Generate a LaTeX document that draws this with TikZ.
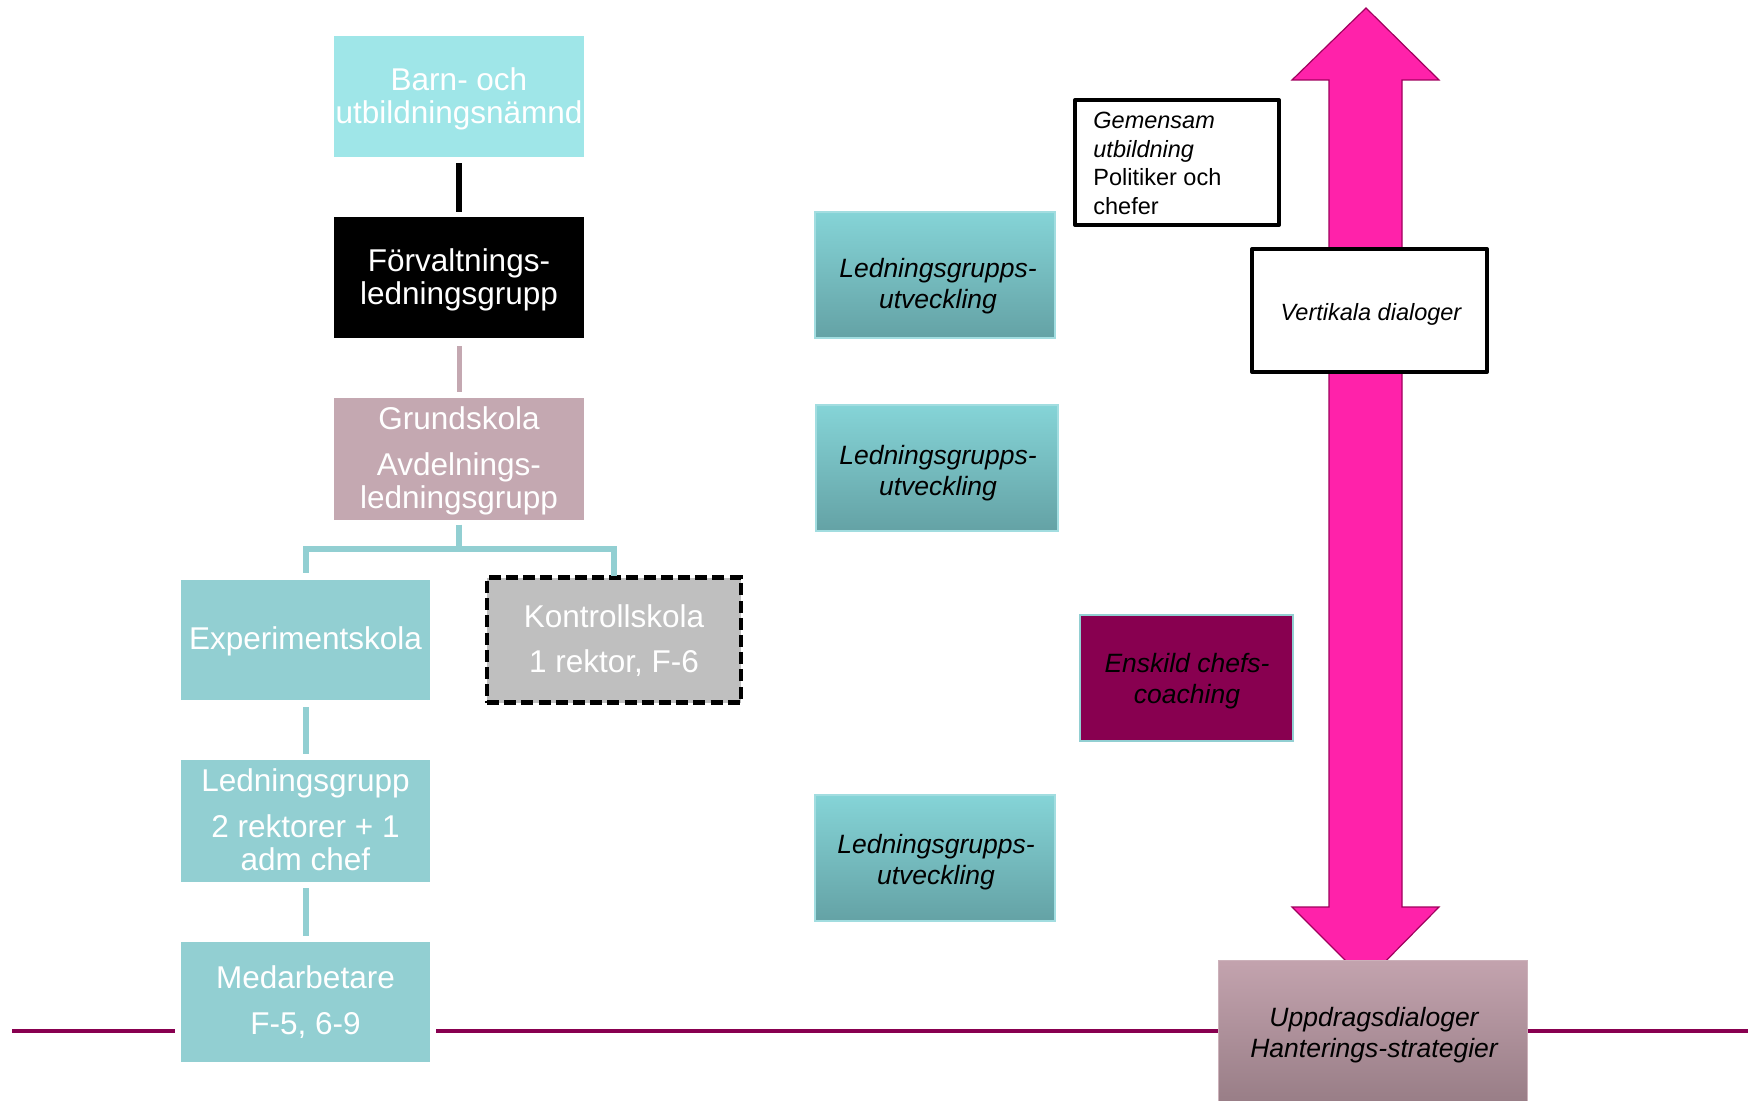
\documentclass[tikz,border=0pt]{standalone}
\usepackage{fontspec}
\setmainfont{Liberation Sans}
\usetikzlibrary{calc}
\definecolor{cyanA}{HTML}{9FE6E8}
\definecolor{tealB}{HTML}{92CFD2}
\definecolor{mauve}{HTML}{C4A8B1}
\definecolor{greyK}{HTML}{BFBFBF}
\definecolor{plum}{HTML}{880050}
\definecolor{hotpink}{HTML}{FF22AA}
\definecolor{pinkedge}{HTML}{A0005E}
\definecolor{lgtop}{HTML}{85D4D7}
\definecolor{lgbot}{HTML}{64A2A5}
\definecolor{lgedge}{HTML}{A2DDE0}
\definecolor{uptop}{HTML}{C3A3AE}
\definecolor{upbot}{HTML}{997E87}
\tikzset{
  box/.style={rectangle, inner sep=0pt, draw=none},
  bigtxt/.style={anchor=north, inner sep=0pt, align=center, text=white,
    font=\fontsize{15.75}{16.4}\selectfont},
  smalltxt/.style={anchor=north, inner sep=0pt, align=center, text=black,
    font=\itshape\fontsize{13.25}{15.6}\selectfont},
  lgbox/.style={box, top color=lgtop, bottom color=lgbot, draw=lgedge, line width=1pt},
  framebox/.style={box, draw=black, fill=white, line width=2pt, line join=round},
  tree/.style={tealB, line width=3pt},
  hline/.style={plum, line width=1.75pt},
}
\begin{document}
\begin{tikzpicture}[x=0.5pt, y=-0.5pt]
\useasboundingbox (0,0) rectangle (1748,1101);
\fill[white] (0,0) rectangle (1748,1101);

% double block arrow
\filldraw[fill=hotpink, draw=pinkedge, line width=0.6pt]
  (1366,8) -- (1439,80) -- (1402,80) -- (1402,907) -- (1439,907) -- (1366,981)
  -- (1292,907) -- (1329,907) -- (1329,80) -- (1292,80) -- cycle;

% horizontal line coordinates
\coordinate (hl) at (12,1031);
\coordinate (hr) at (1748,1031);

% left org chart boxes
\node[box, fill=cyanA, minimum width=125pt, minimum height=60.5pt] (barn) at (459,96.5) {};
\node[bigtxt] (barnT) at (459,67.6) {Barn- och\\utbildningsnämnd};

\node[box, fill=black, minimum width=125pt, minimum height=60.5pt] (forv) at (459,277.5) {};
\node[bigtxt] (forvT) at (459,248.3) {Förvaltnings-\\ledningsgrupp};

\node[box, fill=mauve, minimum width=125pt, minimum height=60.75pt] (grund) at (459,459) {};
\node[bigtxt] (grundT) at (459,406.6) {Grundskola\\[6.4pt]Avdelnings-\\ledningsgrupp};

\node[box, fill=tealB, minimum width=124.5pt, minimum height=60pt] (exp) at (305.5,640) {};
\node[bigtxt] (expT) at (305.5,626.5) {Experimentskola};

\node[box, fill=greyK, draw=black, line width=2.4pt, dash pattern=on 6pt off 2.6pt,
  minimum width=127pt, minimum height=62.5pt] (kon) at (614,640) {};
\node[bigtxt] (konT) at (614,604) {Kontrollskola\\[6.4pt]1 rektor, F-6};

\node[box, fill=tealB, minimum width=124.5pt, minimum height=61pt] (lg) at (305.5,821) {};
\node[bigtxt] (lgT) at (305.5,768) {Ledningsgrupp\\[6.6pt]2 rektorer + 1\\adm chef};

\node[box, fill=tealB, minimum width=124.5pt, minimum height=60pt] (med) at (305.5,1002) {};
\node[bigtxt] (medT) at (305.5,965) {Medarbetare\\[6.9pt]F-5, 6-9};

% connectors of the org chart
\draw[black, line width=3pt, shorten <=3pt, shorten >=2.5pt] (barn.south) -- (forv.north);
\draw[mauve, line width=2.5pt, shorten <=3.8pt, shorten >=2.8pt] (forv.south) -- (grund.north);
\coordinate (bar) at (459,548.5);
\draw[tree] ([yshift=-2.25pt]grund.south) -- (bar);
\draw[tree, line join=miter] ([yshift=3.5pt]exp.north) -- (exp.north |- bar) -- (kon.north |- bar) -- ([yshift=-0.5pt]kon.north);
\draw[tree, shorten <=3.5pt, shorten >=3pt] (exp.south) -- (lg.north);
\draw[tree, shorten <=3pt, shorten >=3pt] (lg.south) -- (med.north);

% middle boxes
\node[lgbox, minimum width=120pt, minimum height=63pt] (lg1) at (935,275) {};
\node[smalltxt] (lg1T) at (938,258) {Ledningsgrupps-\\utveckling};
\node[lgbox, minimum width=121pt, minimum height=63pt] (lg2) at (937,468) {};
\node[smalltxt] (lg2T) at (938,444.5) {Ledningsgrupps-\\utveckling};
\node[lgbox, minimum width=120pt, minimum height=63pt] (lg3) at (935,858) {};
\node[smalltxt] (lg3T) at (936,834) {Ledningsgrupps-\\utveckling};

% right side boxes
\node[framebox, minimum width=102pt, minimum height=62.5pt] (gem) at (1177,162.5) {};
\node[anchor=north west, inner sep=0pt, align=left, text=black,
  font=\fontsize{11.75}{14.25}\selectfont] (gemT) at (1093,112)
  {\itshape Gemensam\\\itshape utbildning\\Politiker och\\chefer};

\node[framebox, minimum width=117.5pt, minimum height=61.5pt] (vert) at (1369.5,310.5) {};
\node[smalltxt, font=\itshape\fontsize{11.75}{14}\selectfont] (vertT) at (1371,303) {Vertikala dialoger};

\node[box, fill=plum, draw=tealB, line width=1pt, minimum width=106.5pt, minimum height=63pt] (ensk) at (1186.5,678) {};
\node[smalltxt] (enskT) at (1187,652.7) {Enskild chefs-\\coaching};

\node[box, top color=uptop, bottom color=upbot, draw=uptop!85!white, line width=0.5pt,
  minimum width=154.5pt, minimum height=70.5pt] (upd) at (1372.5,1030.5) {};
\node[smalltxt] (updT) at (1374,1007) {Uppdragsdialoger\\Hanterings-strategier};

% horizontal line
\draw[hline] (hl) -- ([xshift=-3pt]hl -| med.west);
\draw[hline] ([xshift=3pt]hl -| med.east) -- (hl -| upd.west);
\draw[hline] (hl -| upd.east) -- (hr);
\end{tikzpicture}
\end{document}
